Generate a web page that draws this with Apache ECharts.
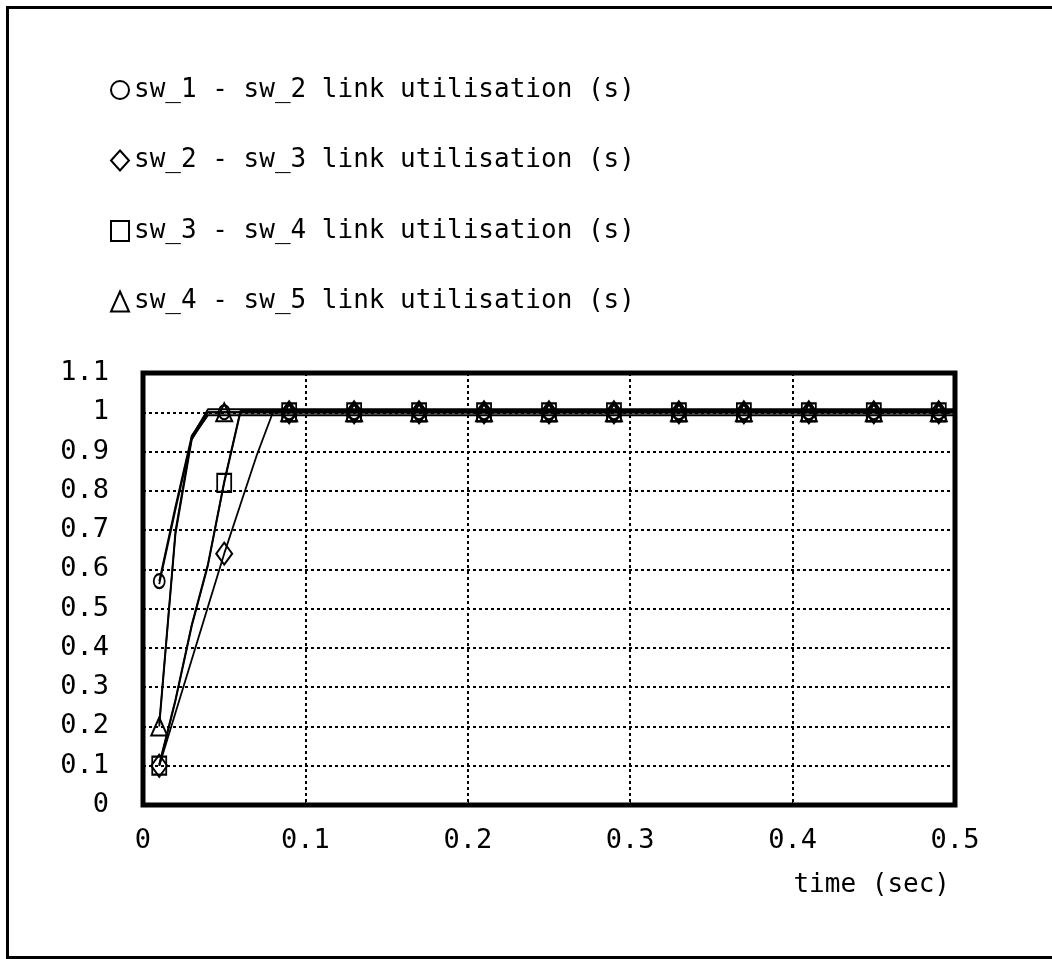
<!DOCTYPE html>
<html>
<head>
<meta charset="utf-8">
<title>link utilisation</title>
<script src="https://cdn.jsdelivr.net/npm/echarts@6/dist/echarts.min.js"></script>
<style>
  html, body { margin: 0; padding: 0; background: #fff; }
  #chart { width: 1052px; height: 959px; }
</style>
</head>
<body>
<div id="chart"></div>
<script>
// sample times (sec)
const times = [0.01, 0.02, 0.03, 0.04, 0.05, 0.06, 0.07, 0.08, 0.09,
  0.13, 0.17, 0.21, 0.25, 0.29, 0.33, 0.37, 0.41, 0.45, 0.49, 0.5]
// times that carry a marker
const markerTimes = [0.01, 0.05, 0.09, 0.13, 0.17, 0.21, 0.25, 0.29, 0.33, 0.37, 0.41, 0.45, 0.49]

const sw12 = [0.57, 0.76, 0.94, 1, 1, 1, 1, 1, 1, 1, 1, 1, 1, 1, 1, 1, 1, 1, 1, 1]
const sw23 = [0.1, 0.235, 0.37, 0.505, 0.64, 0.765, 0.89, 1, 1, 1, 1, 1, 1, 1, 1, 1, 1, 1, 1, 1]
const sw34 = [0.1, 0.265, 0.455, 0.61, 0.82, 1, 1, 1, 1, 1, 1, 1, 1, 1, 1, 1, 1, 1, 1, 1]
const sw45 = [0.2, 0.69, 0.93, 1, 1, 1, 1, 1, 1, 1, 1, 1, 1, 1, 1, 1, 1, 1, 1, 1]

const seriesNames = [
  'sw_1 - sw_2 link utilisation (s)',
  'sw_2 - sw_3 link utilisation (s)',
  'sw_3 - sw_4 link utilisation (s)',
  'sw_4 - sw_5 link utilisation (s)'
]
const symbols = ['circle', 'diamond', 'rect', 'triangle']
const symbolSizes = [[11, 14], [16, 22], [14, 18], [16, 18]]
// small vertical offsets so the overlapping lines at 1.0 form a thick band
const bandOffsets = [3, 0, -1.5, -3]

const font = 'DejaVu Sans Mono'

const makeSeries = (name, values, i) => ({
  name: name,
  type: 'line',
  data: times.map((t, k) => [t, values[k]]),
  showAllSymbol: true,
  symbol: (val) => markerTimes.includes(val[0]) ? symbols[i] : 'none',
  symbolSize: symbolSizes[i],
  itemStyle: {
    color: 'rgba(255,255,255,0)',
    borderColor: '#000',
    borderWidth: 2
  },
  lineStyle: {
    color: '#000',
    width: 1.8,
    shadowColor: '#000',
    shadowBlur: 0,
    shadowOffsetY: bandOffsets[i]
  },
  emphasis: { disabled: true },
  animation: false
})

const chart = echarts.init(document.getElementById('chart'))

chart.setOption({
  backgroundColor: '#fff',
  animation: false,
  title: {
    text: 'time (sec)',
    right: 97,
    top: 867,
    textStyle: { fontFamily: font, fontSize: 26, fontWeight: 'normal', color: '#000' }
  },
  legend: {
    orient: 'vertical',
    left: 105,
    top: 70,
    itemWidth: 18,
    itemHeight: 20,
    itemGap: 40.5,
    selectedMode: false,
    data: seriesNames.map((n, i) => ({ name: n, icon: symbols[i] })),
    itemStyle: { color: '#fff', borderColor: '#000', borderWidth: 2 },
    textStyle: { fontFamily: font, fontSize: 26, color: '#000', lineHeight: 30 }
  },
  grid: {
    left: 143,
    right: 97,
    top: 373,
    bottom: 154,
    show: true,
    borderColor: '#000',
    borderWidth: 5,
    backgroundColor: '#fff',
    containLabel: false
  },
  xAxis: {
    type: 'value',
    min: 0,
    max: 0.5,
    interval: 0.1,
    axisLine: { show: false },
    axisTick: { show: true, inside: true, length: 4, lineStyle: { color: '#000' } },
    axisLabel: { fontFamily: font, fontSize: 27, color: '#000', margin: 22 },
    splitLine: { show: true, lineStyle: { color: '#000', width: 2, type: [3, 3] } }
  },
  yAxis: {
    type: 'value',
    min: 0,
    max: 1.1,
    interval: 0.1,
    axisLine: { show: false },
    axisTick: { show: false },
    axisLabel: { fontFamily: font, fontSize: 27, color: '#000', margin: 34 },
    splitLine: { show: true, lineStyle: { color: '#000', width: 2, type: [3, 3] } }
  },
  graphic: [{
    type: 'rect',
    shape: { x: 7.5, y: 7.5, width: 1100, height: 950 },
    style: { fill: 'none', stroke: '#000', lineWidth: 3 },
    silent: true
  }],
  series: [
    makeSeries(seriesNames[0], sw12, 0),
    makeSeries(seriesNames[1], sw23, 1),
    makeSeries(seriesNames[2], sw34, 2),
    makeSeries(seriesNames[3], sw45, 3)
  ]
})

window.addEventListener('resize', () => chart.resize())
</script>
</body>
</html>
